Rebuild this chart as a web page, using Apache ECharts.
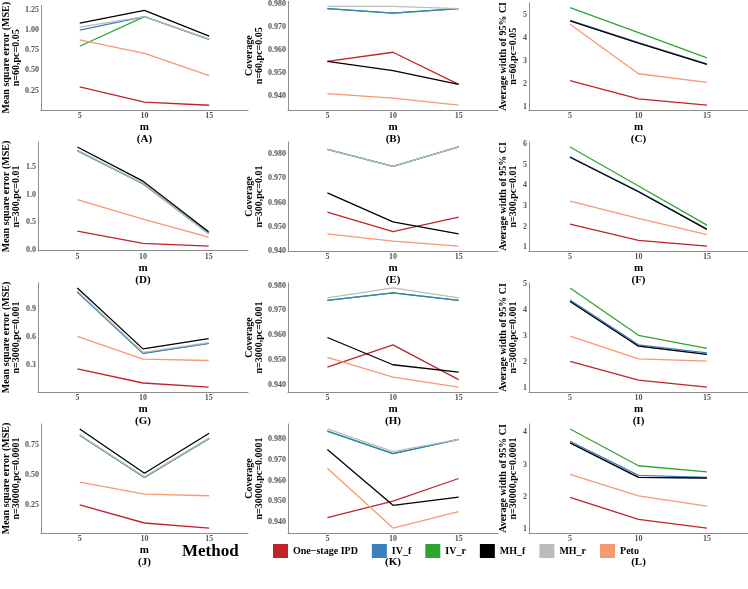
<!DOCTYPE html>
<html><head><meta charset="utf-8">
<script src="https://cdn.jsdelivr.net/npm/echarts@6/dist/echarts.min.js"></script>
<style>html,body{margin:0;padding:0;background:#fff}#c{width:748px;height:589px}</style>
</head><body><div id="c"></div>
<script>
const M = [5, 10, 15];
const METHODS = ['One\u2212stage IPD', 'IV_f', 'IV_r', 'MH_f', 'MH_r', 'Peto'];

// Panel A: MSE, n=60, pc=0.05   (order: IPD, IV_f, IV_r, MH_f, MH_r, Peto)
const A_IPD=[0.294,0.107,0.067], A_IVf=[1.00,1.167,0.885], A_IVr=[0.80,1.167,0.885], A_MHf=[1.087,1.246,0.925], A_MHr=[1.036,1.167,0.889], A_Peto=[0.88,0.71,0.435];
// Panel B: Coverage, n=60, pc=0.05
const B_IPD=[0.955,0.959,0.945], B_IVf=[0.978,0.976,0.978], B_IVr=[0.978,0.976,0.978], B_MHf=[0.955,0.951,0.945], B_MHr=[0.979,0.979,0.978], B_Peto=[0.941,0.939,0.936];
// Panel C: Width, n=60, pc=0.05
const C_IPD=[2.15,1.36,1.09], C_IVf=[4.77,3.80,2.88], C_IVr=[5.32,4.23,3.14], C_MHf=[4.74,3.78,2.86], C_MHr=[4.74,3.78,2.86], C_Peto=[4.60,2.45,2.08];
// Panel D: MSE, n=300, pc=0.01
const D_IPD=[0.34,0.12,0.07], D_IVf=[1.80,1.20,0.30], D_IVr=[1.80,1.20,0.30], D_MHf=[1.867,1.247,0.33], D_MHr=[1.81,1.21,0.29], D_Peto=[0.91,0.56,0.23];
// Panel E: Coverage, n=300, pc=0.01
const E_IPD=[0.956,0.948,0.954], E_IVf=[0.982,0.975,0.983], E_IVr=[0.982,0.975,0.983], E_MHf=[0.964,0.952,0.947], E_MHr=[0.982,0.975,0.983], E_Peto=[0.947,0.944,0.942];
// Panel F: Width, n=300, pc=0.01
const F_IPD=[2.12,1.33,1.05], F_IVf=[5.39,3.71,1.88], F_IVr=[5.87,3.97,2.07], F_MHf=[5.37,3.69,1.86], F_MHr=[5.37,3.69,1.86], F_Peto=[3.23,2.40,1.61];
// Panel G: MSE, n=3000, pc=0.001
const G_IPD=[0.26,0.11,0.067], G_IVf=[1.08,0.427,0.532], G_IVr=[1.08,0.427,0.532], G_MHf=[1.123,0.474,0.582], G_MHr=[1.09,0.437,0.54], G_Peto=[0.607,0.365,0.35];
// Panel H: Coverage, n=3000, pc=0.001
const H_IPD=[0.947,0.956,0.942], H_IVf=[0.974,0.977,0.974], H_IVr=[0.974,0.977,0.974], H_MHf=[0.959,0.948,0.945], H_MHr=[0.975,0.979,0.975], H_Peto=[0.951,0.943,0.939];
// Panel I: Width, n=3000, pc=0.001
const I_IPD=[2.03,1.31,1.04], I_IVf=[4.39,2.66,2.35], I_IVr=[4.85,3.03,2.53], I_MHf=[4.33,2.61,2.30], I_MHr=[4.33,2.61,2.30], I_Peto=[3.00,2.12,2.04];
// Panel J: MSE, n=30000, pc=0.0001
const J_IPD=[0.253,0.103,0.061], J_IVf=[0.833,0.483,0.808], J_IVr=[0.833,0.483,0.808], J_MHf=[0.886,0.517,0.85], J_MHr=[0.838,0.487,0.812], J_Peto=[0.444,0.344,0.33];
// Panel K: Coverage, n=30000, pc=0.0001
const K_IPD=[0.942,0.950,0.961], K_IVf=[0.984,0.973,0.980], K_IVr=[0.984,0.973,0.980], K_MHf=[0.975,0.948,0.952], K_MHr=[0.985,0.974,0.980], K_Peto=[0.966,0.937,0.945];
// Panel L: Width, n=30000, pc=0.0001
const L_IPD=[1.98,1.30,1.03], L_IVf=[3.72,2.66,2.60], L_IVr=[4.10,2.96,2.77], L_MHf=[3.67,2.60,2.58], L_MHr=[3.67,2.60,2.58], L_Peto=[2.69,2.03,1.71];

// Tick labels
const X_TICKS = [5, 10, 15];
const A_TICKS=['0.25','0.50','0.75','1.00','1.25'];
const COV_TICKS=['0.940','0.950','0.960','0.970','0.980'];
const C_TICKS=['1','2','3','4','5'];
const D_TICKS=['0.0','0.5','1.0','1.5'];
const F_TICKS=['1','2','3','4','5','6'];
const G_TICKS=['0.3','0.6','0.9'];
const I_TICKS=['1','2','3','4','5'];
const J_TICKS=['0.25','0.50','0.75'];
const L_TICKS=['1','2','3','4'];

const Y_TITLES = ['Mean square error (MSE)', 'Coverage', 'Average width of 95% CI'];
const SCENARIOS = ['n=60,pc=0.05', 'n=300,pc=0.01', 'n=3000,pc=0.001', 'n=30000,pc=0.0001'];
const LETTERS = ['A','B','C','D','E','F','G','H','I','J','K','L'];

const panelData = [
  [A_IPD,A_IVf,A_IVr,A_MHf,A_MHr,A_Peto],[B_IPD,B_IVf,B_IVr,B_MHf,B_MHr,B_Peto],[C_IPD,C_IVf,C_IVr,C_MHf,C_MHr,C_Peto],
  [D_IPD,D_IVf,D_IVr,D_MHf,D_MHr,D_Peto],[E_IPD,E_IVf,E_IVr,E_MHf,E_MHr,E_Peto],[F_IPD,F_IVf,F_IVr,F_MHf,F_MHr,F_Peto],
  [G_IPD,G_IVf,G_IVr,G_MHf,G_MHr,G_Peto],[H_IPD,H_IVf,H_IVr,H_MHf,H_MHr,H_Peto],[I_IPD,I_IVf,I_IVr,I_MHf,I_MHr,I_Peto],
  [J_IPD,J_IVf,J_IVr,J_MHf,J_MHr,J_Peto],[K_IPD,K_IVf,K_IVr,K_MHf,K_MHr,K_Peto],[L_IPD,L_IVf,L_IVr,L_MHf,L_MHr,L_Peto]
];
const panelTicks = [A_TICKS,COV_TICKS,C_TICKS,D_TICKS,COV_TICKS,F_TICKS,G_TICKS,COV_TICKS,I_TICKS,J_TICKS,COV_TICKS,L_TICKS];

const COLORS = ['#c1232b','#3b7fc0','#2fa52f','#000000','#bcbcbc','#f59a70'];
const DRAW_ORDER = [0,2,1,4,3,5];
const FONT = '"Liberation Serif", "Times New Roman", serif';

const colLeft = [38, 288, 529], colWidth = [210, 210, 219], nameGaps = [17, 19, 11];
const rowTop = [0, 142, 283, 424], rowH = 109;

const grids = [], xAxes = [], yAxes = [], series = [];
panelData.forEach((pd, p) => {
  const r = Math.floor(p / 3), c = p % 3;
  grids.push({left: colLeft[c], top: rowTop[r], width: colWidth[c], height: rowH + (r === 0 ? 1 : 0), containLabel: false});
  const all = pd.flat();
  const lo = Math.min(...all), hi = Math.max(...all), pad = (hi - lo) * 0.05;
  const tl = panelTicks[p], tv = tl.map(Number);
  xAxes.push({
    type: 'value', gridIndex: p, min: 2, max: 18,
    axisLine: {show: true, lineStyle: {color: '#8c8c8c', width: 1}},
    axisTick: {show: false}, splitLine: {show: false},
    axisLabel: {customValues: X_TICKS, fontFamily: FONT, fontWeight: 'bold', fontSize: 8, color: '#555', margin: 2},
    name: 'm\n(' + LETTERS[p] + ')', nameLocation: 'middle', nameGap: 8,
    nameTextStyle: {fontFamily: FONT, fontWeight: 'bold', fontSize: 11, lineHeight: 12, color: '#000'}
  });
  yAxes.push({
    type: 'value', gridIndex: p, min: lo - pad, max: hi + pad,
    axisLine: {show: true, lineStyle: {color: '#8c8c8c', width: 1}},
    axisTick: {show: false}, splitLine: {show: false},
    axisLabel: {customValues: tv, fontFamily: FONT, fontWeight: 'bold', fontSize: 8, color: '#555', margin: 2,
      formatter: v => { const i = tv.findIndex(t => Math.abs(t - v) < 1e-9); return i >= 0 ? tl[i] : ''; }},
    name: Y_TITLES[c] + '\n' + SCENARIOS[r], nameLocation: 'middle', nameRotate: 90, nameGap: nameGaps[c],
    nameTextStyle: {fontFamily: FONT, fontWeight: 'bold', fontSize: 10, lineHeight: 10, color: '#000'}
  });
  DRAW_ORDER.forEach(k => {
    series.push({
      type: 'line', name: METHODS[k], xAxisIndex: p, yAxisIndex: p,
      data: M.map((m, i) => [m, pd[k][i]]),
      showSymbol: false, symbol: 'none', silent: true, animation: false,
      lineStyle: {color: COLORS[k], width: 1.3}, itemStyle: {color: COLORS[k]}
    });
  });
});

const chart = echarts.init(document.getElementById('c'), null, {renderer: 'canvas'});
chart.setOption({
  animation: false,
  grid: grids, xAxis: xAxes, yAxis: yAxes, series: series,
  legend: {
    data: METHODS, left: 268, top: 543, icon: 'rect', itemWidth: 15, itemHeight: 14, itemGap: 14,
    padding: [1, 5, 0, 5], backgroundColor: '#fff', z: 10,
    selectedMode: false,
    textStyle: {fontFamily: FONT, fontWeight: 'bold', fontSize: 10, color: '#000'}
  },
  graphic: [{type: 'text', left: 182, top: 543, z: 20, style: {text: 'Method', font: 'bold 17px ' + FONT, fill: '#000'}}]
});
</script></body></html>
